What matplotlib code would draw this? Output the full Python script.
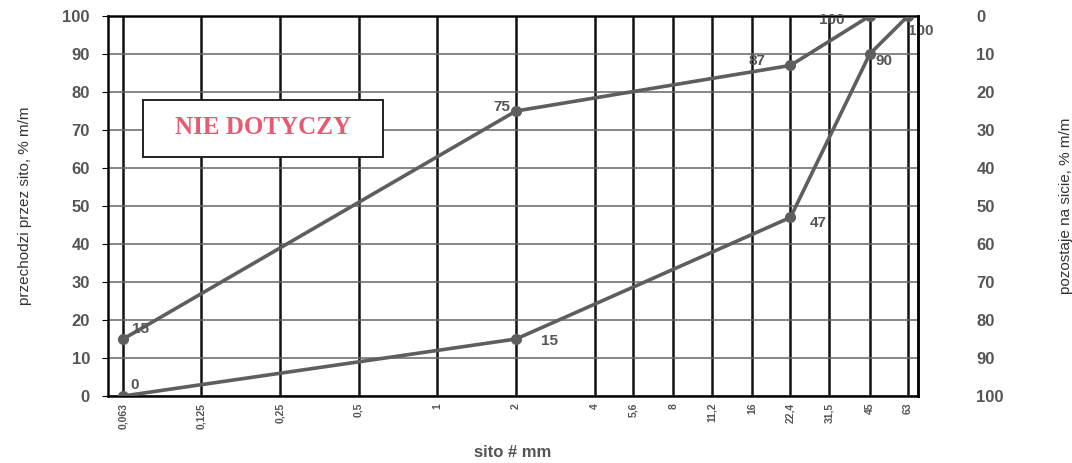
import matplotlib
matplotlib.use("Agg")
from matplotlib import pyplot as plt
from matplotlib.patches import Rectangle
from matplotlib.ticker import FixedLocator, NullLocator

# sieve sizes (mm) and their labels
sieves = [0.063, 0.125, 0.25, 0.5, 1, 2, 4, 5.6, 8, 11.2, 16, 22.4, 31.5, 45, 63]
sieve_labels = ["0,063", "0,125", "0,25", "0,5", "1", "2", "4", "5,6", "8",
                "11,2", "16", "22,4", "31,5", "45", "63"]

# upper curve
upper_x = [0.063, 2, 22.4, 45]
upper_y = [15, 75, 87, 100]
# lower curve
lower_x = [0.063, 2, 22.4, 45, 63]
lower_y = [0, 15, 47, 90, 100]

left_ticks = list(range(0, 101, 10))

grey = "#5e5e5e"
txt = "#555555"
plt.rcParams['font.family'] = ['Liberation Sans', 'DejaVu Sans']

fig = plt.figure(figsize=(10.72, 4.63), dpi=100)
ax = fig.add_axes([0.1007, 0.1447, 0.7556, 0.8207])

ax.set_xscale("log", base=2)
ax.set_xlim(0.0551, 68.8)
ax.set_ylim(0, 100)

# grid
for s in sieves:
    ax.axvline(s, color="#111111", lw=1.8, zorder=1)
for v in left_ticks:
    ax.axhline(v, color="#666666", lw=1.1, zorder=1)

ax.plot(upper_x, upper_y, "-o", color=grey, lw=2.6, ms=7, zorder=3)
ax.plot(lower_x, lower_y, "-o", color=grey, lw=2.6, ms=7, zorder=3)

lab = dict(color=txt, fontsize=11, fontweight="bold", zorder=4)
# upper labels
ax.annotate(str(upper_y[0]), (upper_x[0], upper_y[0]), xytext=(6, 4), textcoords="offset points", **lab)
ax.annotate(str(upper_y[1]), (upper_x[1], upper_y[1]), xytext=(-4, 0), textcoords="offset points", ha="right", **lab)
ax.annotate(str(upper_y[2]), (upper_x[2], upper_y[2]), xytext=(-18, 0), textcoords="offset points", ha="right", **lab)
ax.annotate(str(upper_y[3]), (upper_x[3], upper_y[3]), xytext=(-18, -6), textcoords="offset points", ha="right", **lab)
# lower labels
ax.annotate(str(lower_y[0]), (lower_x[0], lower_y[0]), xytext=(5, 5), textcoords="offset points", **lab)
ax.annotate(str(lower_y[1]), (lower_x[1], lower_y[1]), xytext=(18, -4), textcoords="offset points", **lab)
ax.annotate(str(lower_y[2]), (lower_x[2], lower_y[2]), xytext=(14, -7), textcoords="offset points", **lab)
ax.annotate(str(lower_y[3]), (lower_x[3], lower_y[3]), xytext=(4, -8), textcoords="offset points", **lab)
ax.annotate(str(lower_y[4]), (lower_x[4], lower_y[4]), xytext=(0, -14), textcoords="offset points", **lab)

# "NIE DOTYCZY" box
ax.add_patch(Rectangle((0.0432, 0.629), 0.2963, 0.15, transform=ax.transAxes,
                       fc="white", ec="#222222", lw=1.4, zorder=5))
ax.text(0.191, 0.706, "NIE DOTYCZY", transform=ax.transAxes, ha="center", va="center",
        family=["Liberation Serif", "DejaVu Serif"], fontweight="bold", fontsize=18,
        color="#e85a72", zorder=6)

ax.xaxis.set_major_locator(FixedLocator(sieves))
ax.xaxis.set_minor_locator(NullLocator())
ax.set_xticklabels(sieve_labels, rotation=90, fontsize=7.5, fontweight="bold", color=txt,
                   family=["Liberation Sans Narrow", "Liberation Sans"])
ax.tick_params(axis="x", length=0, pad=5)

ax.set_yticks(left_ticks)
ax.set_yticklabels([str(v) for v in left_ticks], fontsize=12, fontweight="bold", color=txt)
ax.tick_params(axis="y", length=4, direction="out", pad=9)

ax.set_xlabel("sito # mm", fontsize=12, fontweight="bold", color=txt, labelpad=12)
ax.set_ylabel("przechodzi przez sito, % m/m", fontsize=11, color="#333333",
              family=["Liberation Sans Narrow", "Liberation Sans"], labelpad=22)

for sp in ax.spines.values():
    sp.set_linewidth(1.8)
    sp.set_color("#111111")

ax2 = ax.twinx()
ax2.set_ylim(100, 0)
ax2.set_yticks(left_ticks)
ax2.set_yticklabels([str(v) for v in left_ticks], fontsize=12, fontweight="bold", color=txt)
ax2.tick_params(axis="y", length=0, pad=42)
ax2.set_ylabel("pozostaje na sicie, % m/m", fontsize=11, color="#333333",
               family=["Liberation Sans Narrow", "Liberation Sans"], labelpad=40)
ax2.spines["right"].set_linewidth(1.8)

fig.savefig("out.png", dpi=100)
